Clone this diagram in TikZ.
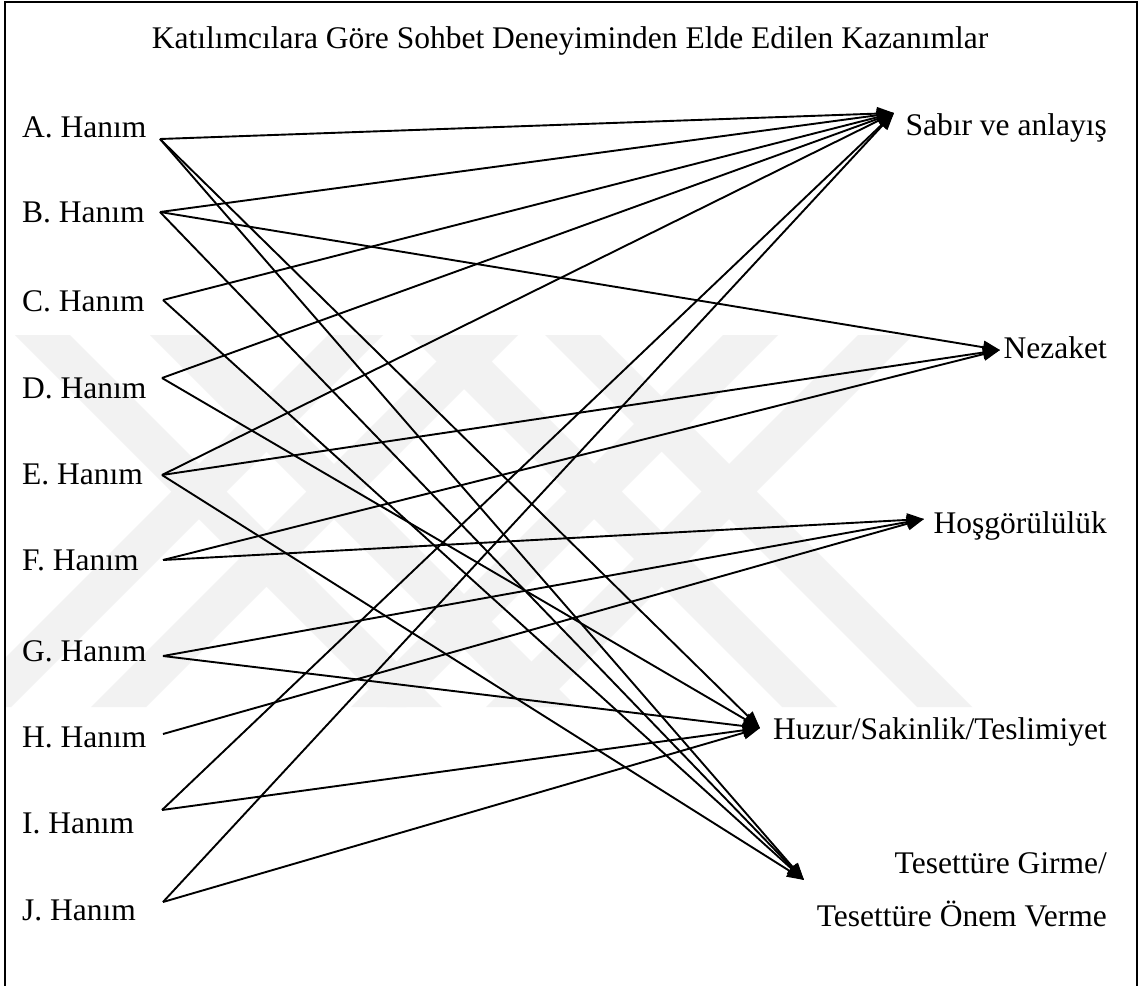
\documentclass[tikz,border=0pt]{standalone}
\usepackage{fontspec}
\setmainfont{Liberation Serif}
\usetikzlibrary{arrows.meta}
\begin{document}
\begin{tikzpicture}[x=1pt,y=-1pt,
  lbl/.style={inner sep=0pt, font=\fontsize{31.5}{38}\selectfont},
  conn/.style={line width=1.9pt, -{Triangle[length=17pt,width=13pt]}},
  wm/.style={fill=black!5, draw=none},
  frame/.style={line width=1.8pt}]
\useasboundingbox (0,0) rectangle (1140,985);
\fill[white] (0,0) rectangle (1140,985);
% watermark
\begin{scope}
\clip (5,2) rectangle (1137,985);
\foreach \a in {15,150,410,545} \fill[wm] (\a,335) -- ++(55,0) -- ++(372,372) -- ++(-55,0) -- cycle;
\foreach \b in {328,463,723,858} \fill[wm] (\b,335) -- ++(55,0) -- ++(-372,372) -- ++(-55,0) -- cycle;
\end{scope}
% frame
\draw[frame] (5,990) -- (5,2) -- (1137,2) -- (1137,990);
% title
\node[lbl, anchor=base] (title) at (570,48) {Katılımcılara Göre Sohbet Deneyiminden Elde Edilen Kazanımlar};
% left labels
\node[lbl, anchor=base west] (nA) at (22,137) {A. Hanım};
\node[lbl, anchor=base west] (nB) at (22,222) {B. Hanım};
\node[lbl, anchor=base west] (nC) at (22,311) {C. Hanım};
\node[lbl, anchor=base west] (nD) at (22,398) {D. Hanım};
\node[lbl, anchor=base west] (nE) at (22,484) {E. Hanım};
\node[lbl, anchor=base west] (nF) at (22,570) {F. Hanım};
\node[lbl, anchor=base west] (nG) at (22,661) {G. Hanım};
\node[lbl, anchor=base west] (nH) at (22,747) {H. Hanım};
\node[lbl, anchor=base west] (nI) at (22,833) {I. Hanım};
\node[lbl, anchor=base west] (nJ) at (22,920) {J. Hanım};
% right labels
\node[lbl, anchor=base east] (rS) at (1107,135) {Sabır ve anlayış};
\node[lbl, anchor=base east] (rN) at (1107,358) {Nezaket};
\node[lbl, anchor=base east] (rHo) at (1107,533) {Hoşgörülülük};
\node[lbl, anchor=base east] (rHu) at (1107,739) {Huzur/Sakinlik/Teslimiyet};
\node[lbl, anchor=base east] (rT1) at (1107,873) {Tesettüre Girme/};
\node[lbl, anchor=base east] (rT2) at (1107,926) {Tesettüre Önem Verme};
% connector ends
\coordinate (pA) at (160,139);
\coordinate (pB) at (160,212);
\coordinate (pC) at (163,300);
\coordinate (pD) at (162,378);
\coordinate (pE) at (162,475);
\coordinate (pF) at (163,560);
\coordinate (pG) at (163,656);
\coordinate (pH) at (163,734);
\coordinate (pI) at (162,810);
\coordinate (pJ) at (163,902);
\coordinate (tS) at (894,113);
\coordinate (tN) at (1000,350);
\coordinate (tHo) at (924,519);
\coordinate (tHu) at (760,728);
\coordinate (tT) at (804,880);
% connectors
\draw[conn] (pA) -- (tS);
\draw[conn] (pA) -- (tHu);
\draw[conn] (pA) -- (tT);
\draw[conn] (pB) -- (tS);
\draw[conn] (pB) -- (tN);
\draw[conn] (pB) -- (tT);
\draw[conn] (pC) -- (tS);
\draw[conn] (pC) -- (tT);
\draw[conn] (pD) -- (tS);
\draw[conn] (pD) -- (tHu);
\draw[conn] (pE) -- (tS);
\draw[conn] (pE) -- (tN);
\draw[conn] (pE) -- (tT);
\draw[conn] (pF) -- (tN);
\draw[conn] (pF) -- (tHo);
\draw[conn] (pG) -- (tHo);
\draw[conn] (pG) -- (tHu);
\draw[conn] (pH) -- (tHo);
\draw[conn] (pI) -- (tS);
\draw[conn] (pI) -- (tHu);
\draw[conn] (pJ) -- (tS);
\draw[conn] (pJ) -- (tHu);
\end{tikzpicture}
\end{document}
